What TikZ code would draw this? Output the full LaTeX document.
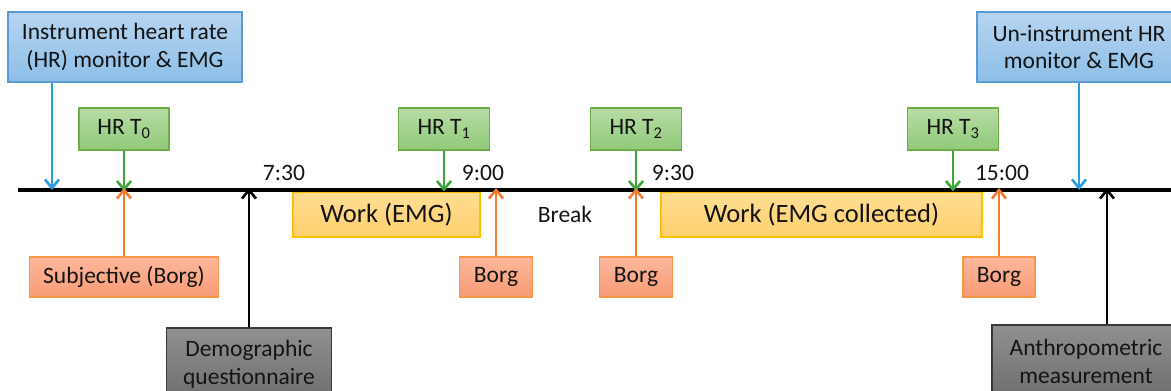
\documentclass[tikz,border=0pt]{standalone}
\usepackage{fontspec}
\setmainfont{Carlito}
\usetikzlibrary{arrows.meta,shadings}

\definecolor{bluefillA}{HTML}{B7D5F0}
\definecolor{bluefillB}{HTML}{8DBEE8}
\definecolor{blueline}{HTML}{5B9BD5}
\definecolor{bluearrow}{HTML}{2A9DE0}
\definecolor{greenfillA}{HTML}{B8DDA5}
\definecolor{greenfillB}{HTML}{8FC879}
\definecolor{greenline}{HTML}{70AD47}
\definecolor{greenarrow}{HTML}{3FA83A}
\definecolor{orangefillA}{HTML}{FCB89C}
\definecolor{orangefillB}{HTML}{F79A76}
\definecolor{orangeline}{HTML}{F79646}
\definecolor{orangearrow}{HTML}{F47B30}
\definecolor{yellowfillA}{HTML}{FFDE94}
\definecolor{yellowfillB}{HTML}{FFCF6C}
\definecolor{yellowline}{HTML}{FFC000}
\definecolor{grayfillA}{HTML}{909090}
\definecolor{grayfillB}{HTML}{6E6E6E}
\definecolor{grayline}{HTML}{3A3A3A}
\definecolor{inktext}{HTML}{141414}

\tikzset{
  box/.style={rectangle, inner sep=0pt, align=center, line width=1.2pt,
    text=inktext, font=\fontsize{23.5}{28}\selectfont},
  bluebox/.style={box, draw=blueline, top color=bluefillA, bottom color=bluefillB},
  greenbox/.style={box, draw=greenline, top color=greenfillA, bottom color=greenfillB},
  orangebox/.style={box, draw=orangeline, top color=orangefillA, bottom color=orangefillB},
  workbox/.style={box, draw=yellowline, top color=yellowfillA, bottom color=yellowfillB,
    font=\fontsize{26.5}{31}\selectfont},
  graybox/.style={box, draw=grayline, top color=grayfillA, bottom color=grayfillB},
  label/.style={inner sep=0pt, text=inktext, font=\fontsize{23.5}{28}\selectfont},
  conn/.style={line width=2.6pt, -{Straight Barb[length=8.5pt,width=14pt,line width=2.6pt]}},
  timeline/.style={line width=3.8pt, black},
}

\begin{document}
\begin{tikzpicture}[x=1pt, y=-1pt]
\useasboundingbox (0,0) rectangle (1171,391);

% time axis end points and marks on it
\coordinate (tl-start) at (18,190);
\coordinate (tl-end) at (1185,190);
\coordinate (mk-inst) at (52,190);
\coordinate (mk-anth) at (1107,190);

% boxes above the axis
\node[bluebox, minimum width=234pt, minimum height=70pt] (inst) at (125,47)
  {Instrument heart rate\\(HR) monitor \& EMG};
\node[bluebox, minimum width=204pt, minimum height=70pt] (uninst) at (1079,47)
  {Un-instrument HR\\monitor \& EMG};
\node[greenbox, minimum width=90pt, minimum height=42pt] (hr0) at (124,129) {HR T\textsubscript{0}};
\node[greenbox, minimum width=91pt, minimum height=42pt] (hr1) at (444,129) {HR T\textsubscript{1}};
\node[greenbox, minimum width=91pt, minimum height=42pt] (hr2) at (636,129) {HR T\textsubscript{2}};
\node[greenbox, minimum width=91pt, minimum height=42pt] (hr3) at (953,129) {HR T\textsubscript{3}};

% work periods just under the axis
\node[workbox, minimum width=187pt, minimum height=45pt] (work1) at (386.5,214.5) {Work (EMG)};
\node[workbox, minimum width=321pt, minimum height=45pt] (work2) at (821.5,214.5) {Work (EMG collected)};

% boxes below the axis
\node[orangebox, minimum width=189pt, minimum height=40pt] (borg0) at (124,277) {Subjective (Borg)};
\node[orangebox, minimum width=73pt, minimum height=40pt] (borg1) at (496,277) {Borg};
\node[orangebox, minimum width=73pt, minimum height=40pt] (borg2) at (636,277) {Borg};
\node[orangebox, minimum width=72pt, minimum height=40pt] (borg3) at (999,277) {Borg};
\node[graybox, minimum width=165pt, minimum height=72pt] (demo) at (249,364)
  {Demographic\\questionnaire};
\node[graybox, minimum width=188pt, minimum height=72pt] (anth) at (1086,361)
  {Anthropometric\\measurement};

% time axis
\draw[timeline] (tl-start) -- (tl-end);

% clock times and the break
\node[label] (t730) at (284,173) {7:30};
\node[label] (t900) at (483,173) {9:00};
\node[label] (t930) at (673,173) {9:30};
\node[label] (t1500) at (1002,173) {15:00};
\node[label] (brk) at (565,214) {Break};

% connectors from above
\draw[conn, bluearrow] (mk-inst |- inst.south) -- (mk-inst);
\draw[conn, bluearrow] (uninst.south) -- (uninst.south |- tl-start);
\draw[conn, greenarrow] (hr0.south) -- ([yshift=-1.5pt]hr0.south |- tl-start);
\draw[conn, greenarrow] (hr1.south) -- ([yshift=-1.5pt]hr1.south |- tl-start);
\draw[conn, greenarrow] (hr2.south) -- ([yshift=-1.5pt]hr2.south |- tl-start);
\draw[conn, greenarrow] (hr3.south) -- ([yshift=-1.5pt]hr3.south |- tl-start);

% connectors from below
\draw[conn, orangearrow] (borg0.north) -- ([yshift=2pt]borg0.north |- tl-start);
\draw[conn, orangearrow] (borg1.north) -- ([yshift=2pt]borg1.north |- tl-start);
\draw[conn, orangearrow] (borg2.north) -- ([yshift=2pt]borg2.north |- tl-start);
\draw[conn, orangearrow] (borg3.north) -- ([yshift=2pt]borg3.north |- tl-start);
\draw[conn, black] (demo.north) -- ([yshift=2pt]demo.north |- tl-start);
\draw[conn, black] (mk-anth |- anth.north) -- ([yshift=2pt]mk-anth);
\end{tikzpicture}
\end{document}
